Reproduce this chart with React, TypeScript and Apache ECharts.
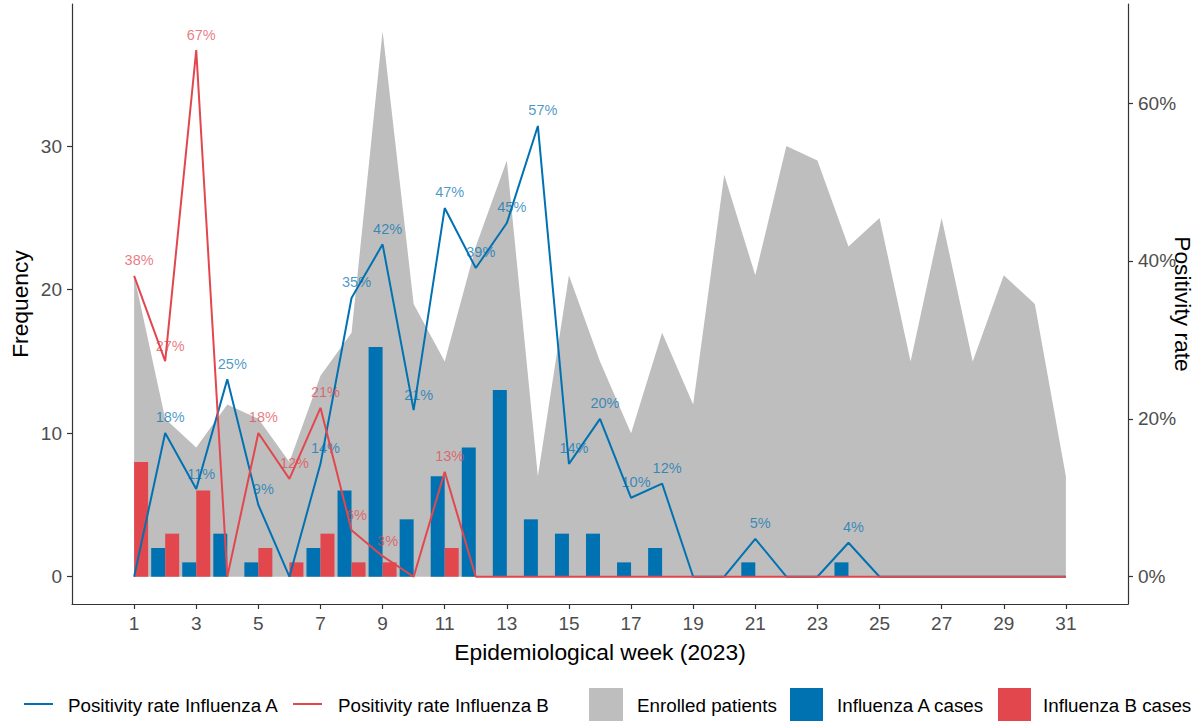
import React, { useEffect, useRef } from "react";
import * as echarts from "echarts";

const weeks = [1,2,3,4,5,6,7,8,9,10,11,12,13,14,15,16,17,18,19,20,21,22,23,24,25,26,27,28,29,30,31];
const enrolled = [21,11,9,12,11,8,14,17,38,19,15,23,29,7,21,15,10,17,12,28,21,30,29,23,25,15,25,15,21,19,7];
const casesA = [0,2,1,3,1,0,2,6,16,4,7,9,13,4,3,3,1,2,0,0,1,0,0,1,0,0,0,0,0,0,0];
const casesB = [8,3,6,0,2,1,3,1,1,0,2,0,0,0,0,0,0,0,0,0,0,0,0,0,0,0,0,0,0,0,0];
const rateA = [0,18.2,11.1,25,9.1,0,14.3,35.3,42.1,21.1,46.7,39.1,44.8,57.1,14.3,20,10,11.8,0,0,4.8,0,0,4.3,0,0,0,0,0,0,0];
const rateB = [38.1,27.3,66.7,0,18.2,12.4,21.4,5.9,2.6,0,13.3,0,0,0,0,0,0,0,0,0,0,0,0,0,0,0,0,0,0,0,0];
const xTicks = [1,3,5,7,9,11,13,15,17,19,21,23,25,27,29,31];
const freqTicks = [0,10,20,30];
const rateTicks = [0,20,40,60];

const BLUE = "#0072B2";
const RED = "#E2474E";
const GRAY = "#BEBEBE";
const BLUE_LBL = "rgba(0,114,178,0.72)";
const RED_LBL = "rgba(226,71,78,0.72)";
const FONT = "'Liberation Sans', Arial, sans-serif";

export default function App() {
  const ref = useRef<HTMLDivElement>(null);
  useEffect(() => {
    if (!ref.current) return;
    const chart = echarts.init(ref.current, undefined, { renderer: "svg" });
    const pair = (arr: number[]) => weeks.map((w, i) => [w, arr[i]]);
    const lbl = (color: string) => ({
      show: true,
      position: "top",
      distance: 8,
      offset: [5, 0],
      color,
      fontSize: 14.5,
      fontFamily: FONT,
      formatter: (p: any) => (p.value[1] > 0 ? Math.round(p.value[1]) + "%" : ""),
    });
    const axisText = { fontSize: 19, color: "#4D4D4D", fontFamily: FONT };
    const titleText = { fontSize: 22.8, color: "#000", fontFamily: FONT };
    const axisLine = { show: true, onZero: false, lineStyle: { color: "#333", width: 1.2 } };
    const tick = (vals: number[]) => ({ show: true, length: 5, customValues: vals, lineStyle: { color: "#333", width: 1.2 } });

    const legendY = 705;
    const legendText = (x: number, t: string) => ({
      type: "text",
      x,
      y: legendY,
      style: { text: t, fontSize: 18.8, fontFamily: FONT, fill: "#000", verticalAlign: "middle", align: "left" },
    });

    chart.setOption({
      animation: false,
      backgroundColor: "#fff",
      grid: { left: 72, right: 66, top: 4, bottom: 117, containLabel: false, outerBoundsMode: "none" },
      xAxis: {
        type: "value",
        min: -1,
        max: 33,
        axisLine,
        axisTick: tick(xTicks),
        axisLabel: { ...axisText, customValues: xTicks, margin: 10 },
        splitLine: { show: false },
        name: "Epidemiological week (2023)",
        nameLocation: "middle",
        nameGap: 36,
        nameMoveOverlap: false,
        nameTextStyle: titleText,
      },
      yAxis: [
        {
          type: "value",
          min: -1.9,
          max: 39.9,
          axisLine,
          axisTick: tick(freqTicks),
          axisLabel: { ...axisText, customValues: freqTicks, margin: 10 },
          splitLine: { show: false },
          name: "Frequency",
          nameLocation: "middle",
          nameGap: 41,
          nameMoveOverlap: false,
          nameTextStyle: titleText,
        },
        {
          type: "value",
          position: "right",
          min: -3.4545,
          max: 72.545,
          axisLine,
          axisTick: tick(rateTicks),
          axisLabel: { ...axisText, customValues: rateTicks, margin: 10, formatter: (v: number) => v + "%" },
          splitLine: { show: false },
          name: "Positivity rate",
          nameLocation: "middle",
          nameRotate: -90,
          nameGap: 43,
          nameMoveOverlap: false,
          nameTextStyle: titleText,
        },
      ],
      series: [
        {
          name: "Enrolled patients",
          type: "line",
          data: pair(enrolled),
          symbol: "none",
          lineStyle: { width: 0, color: GRAY },
          areaStyle: { color: GRAY, opacity: 1 },
          z: 1,
          silent: true,
        },
        {
          name: "Influenza A cases",
          type: "bar",
          data: pair(casesA),
          barWidth: 14,
          barGap: "0%",
          itemStyle: { color: BLUE },
          z: 2,
        },
        {
          name: "Influenza B cases",
          type: "bar",
          data: pair(casesB),
          barWidth: 14,
          barGap: "0%",
          itemStyle: { color: RED },
          z: 2,
        },
        {
          name: "Positivity rate Influenza A",
          type: "line",
          yAxisIndex: 1,
          data: pair(rateA),
          symbol: "circle",
          symbolSize: 0.1,
          showSymbol: true,
          lineStyle: { width: 2, color: BLUE },
          itemStyle: { color: BLUE },
          label: lbl(BLUE_LBL),
          z: 3,
        },
        {
          name: "Positivity rate Influenza B",
          type: "line",
          yAxisIndex: 1,
          data: pair(rateB),
          symbol: "circle",
          symbolSize: 0.1,
          showSymbol: true,
          lineStyle: { width: 2, color: RED },
          itemStyle: { color: RED },
          label: lbl(RED_LBL),
          z: 4,
        },
      ],
      graphic: [
        { type: "line", shape: { x1: 24, y1: 704, x2: 53, y2: 704 }, style: { stroke: BLUE, lineWidth: 2 } },
        legendText(68, "Positivity rate Influenza A"),
        { type: "line", shape: { x1: 293, y1: 704, x2: 322, y2: 704 }, style: { stroke: RED, lineWidth: 2 } },
        legendText(338, "Positivity rate Influenza B"),
        { type: "rect", shape: { x: 589, y: 688, width: 34, height: 34 }, style: { fill: GRAY } },
        legendText(637, "Enrolled patients"),
        { type: "rect", shape: { x: 790, y: 688, width: 33, height: 34 }, style: { fill: BLUE } },
        legendText(837, "Influenza A cases"),
        { type: "rect", shape: { x: 998, y: 688, width: 33, height: 34 }, style: { fill: RED } },
        legendText(1043, "Influenza B cases"),
      ],
    });
    return () => chart.dispose();
  }, []);
  return (
    <div
      ref={ref}
      style={{ position: "absolute", left: 0, top: 0, width: 1194, height: 721, background: "#fff" }}
    />
  );
}
